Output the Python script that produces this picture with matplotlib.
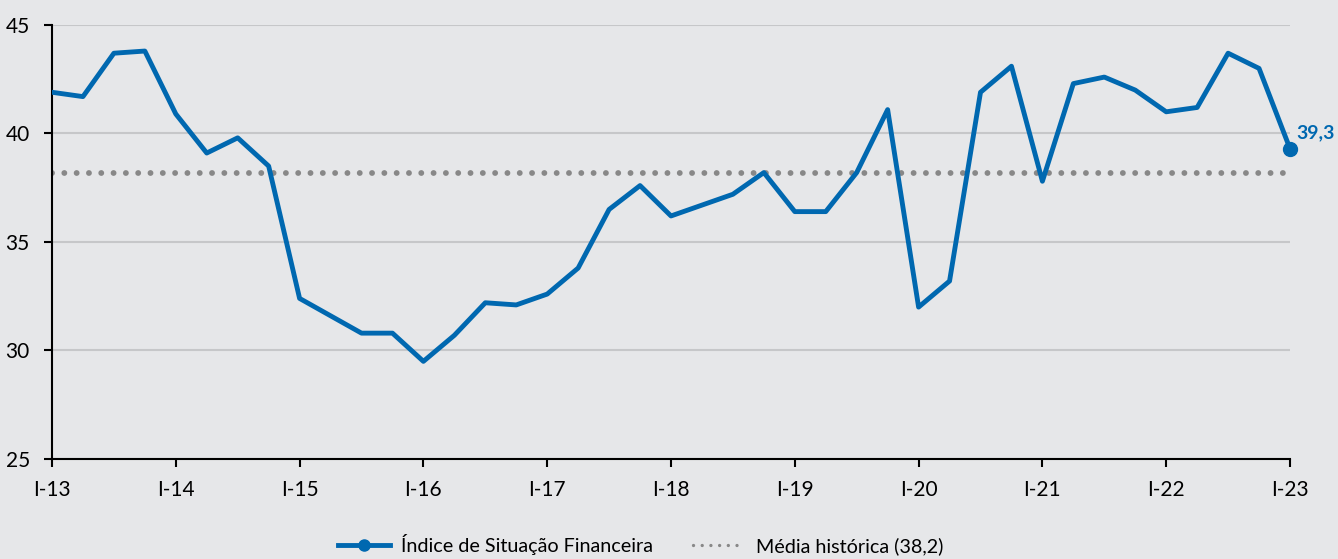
import matplotlib.pyplot as plt
import numpy as np

# quarterly index values, I-13 .. I-23
quarters = np.arange(41)
values = [41.9, 41.7, 43.7, 43.8, 40.9, 39.1, 39.8, 38.5,
          32.4, 31.6, 30.8, 30.8, 29.5, 30.7, 32.2, 32.1,
          32.6, 33.8, 36.5, 37.6, 36.2, 36.7, 37.2, 38.2,
          36.4, 36.4, 38.2, 41.1, 32.0, 33.2, 41.9, 43.1,
          37.8, 42.3, 42.6, 42.0, 41.0, 41.2, 43.7, 43.0,
          39.3]
media = 38.2
tick_pos = np.arange(0, 41, 4)
tick_labels = ["I-13", "I-14", "I-15", "I-16", "I-17", "I-18",
               "I-19", "I-20", "I-21", "I-22", "I-23"]

plt.rcParams['font.family'] = ['Lato', 'DejaVu Sans']
bg = "#e6e7e9"
blue = "#0068b0"
grey = "#888888"

fig = plt.figure(figsize=(13.38, 5.59), dpi=100, facecolor=bg)
ax = fig.add_axes([52/1338, 1-459/559, (1290-52)/1338, (459-25)/559])
ax.set_facecolor(bg)

ax.axhline(media, xmin=0, xmax=0.994, color=grey, lw=4.2,
           dashes=(0.01, 2.1), dash_capstyle="round", zorder=2)
ax.plot(quarters, values, color=blue, lw=3.5, zorder=3)
ax.plot(quarters[-1], values[-1], 'o', color=blue, ms=10, zorder=4, clip_on=False)
ax.text(quarters[-1] + 0.2, values[-1] + 0.75, "39,3", color=blue,
        fontsize=14, fontweight="bold", va="center", ha="left")

ax.set_xlim(0, 40)
ax.set_ylim(25, 45)
ax.set_yticks([25, 30, 35, 40, 45])
ax.set_xticks(tick_pos)
ax.set_xticklabels(tick_labels)
ax.grid(axis="y", color="#c6c7c9", lw=1.5)
ax.set_axisbelow(True)
for s in ["top", "right"]:
    ax.spines[s].set_visible(False)
for s in ["left", "bottom"]:
    ax.spines[s].set_color("black")
    ax.spines[s].set_linewidth(1.5)
ax.tick_params(labelsize=15, length=6, width=1.5)
ax.tick_params(axis="x", pad=9)
ax.tick_params(axis="y", pad=10)

h1, = ax.plot([], [], color=blue, lw=3.5, marker='o', ms=8)
h2, = ax.plot([], [], color=grey, lw=2.4, dashes=(0.01, 2.6),
              dash_capstyle="round")
fig.legend([h1, h2], ["Índice de Situação Financeira", "Média histórica (38,2)"],
           loc="lower center", bbox_to_anchor=(0.479, -0.024), ncol=2,
           frameon=False, fontsize=14.2, handlelength=2.6, handletextpad=0.6,
           columnspacing=2.0)

fig.savefig("out.png", dpi=100, facecolor=bg)
